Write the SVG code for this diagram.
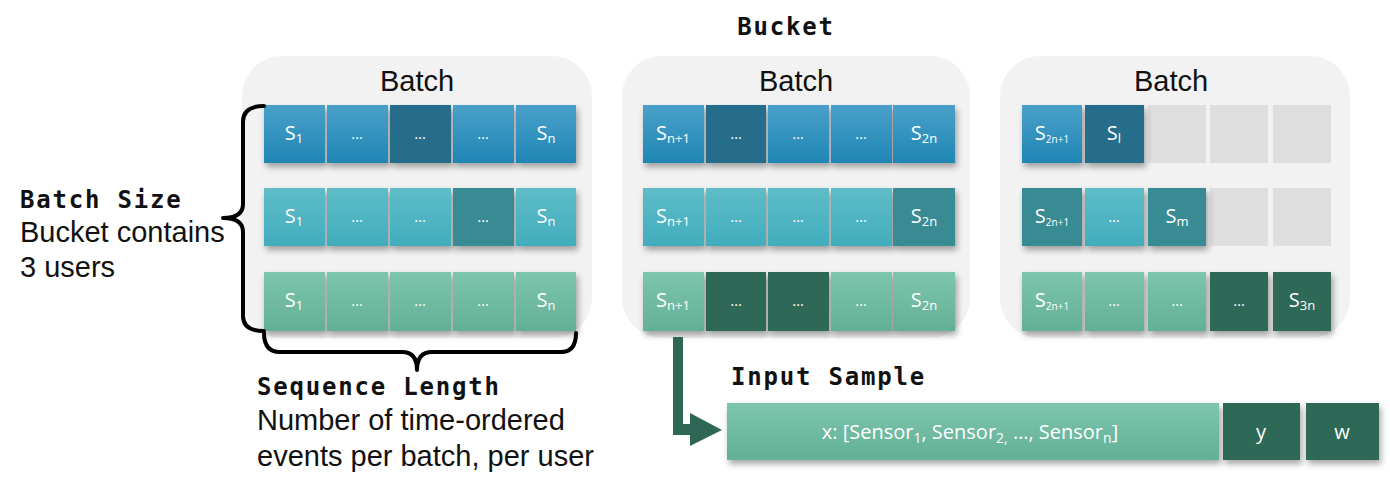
<svg xmlns="http://www.w3.org/2000/svg" width="1390" height="492" viewBox="0 0 1390 492">
<defs>
<linearGradient id="gB" x1="0" y1="0" x2="0" y2="1"><stop offset="0" stop-color="#4aa0c9"/><stop offset="1" stop-color="#1f86b5"/></linearGradient>
<linearGradient id="gC" x1="0" y1="0" x2="0" y2="1"><stop offset="0" stop-color="#5fbcc8"/><stop offset="1" stop-color="#41adbd"/></linearGradient>
<linearGradient id="gG" x1="0" y1="0" x2="0" y2="1"><stop offset="0" stop-color="#7ec5ae"/><stop offset="1" stop-color="#62b096"/></linearGradient>
<filter id="sh" x="-20%" y="-20%" width="150%" height="160%"><feDropShadow dx="2" dy="4" stdDeviation="3" flood-color="#000" flood-opacity="0.35"/></filter>
</defs>
<style>
.panel{fill:#f2f2f2}
.c{filter:url(#sh)}
.b{fill:url(#gB)}
.cy{fill:url(#gC)}
.g{fill:url(#gG)}
.db{fill:#266d8b}
.dt{fill:#378a93}
.dg{fill:#2f6756}
.e{fill:#dedede}
.t{font-family:"Open Sans","DejaVu Sans",sans-serif;fill:#fff;font-size:20px;text-anchor:middle}
.s{font-size:13px}
.xs{font-size:10px}
.d{font-size:15px}
.lbl{font-family:"Liberation Sans",Arial,sans-serif;font-size:29px;fill:#111}
.mono{font-family:"DejaVu Sans Mono","Liberation Mono",monospace;font-weight:bold;font-size:24px;letter-spacing:1.8px;fill:#111}
.brace{fill:none;stroke:#000;stroke-width:4;stroke-linejoin:round;stroke-linecap:round}
</style>

<text class="mono" x="786" y="35" text-anchor="middle">Bucket</text>

<g id="batch1">
<rect class="panel" x="242" y="56" width="350" height="282" rx="40"/>
<text class="lbl" x="417" y="91" text-anchor="middle">Batch</text>
<g class="c">
<rect class="b" x="264" y="105" width="61" height="58"/>
<rect class="b" x="327" y="105" width="61" height="58"/>
<rect class="db" x="390" y="105" width="61" height="58"/>
<rect class="b" x="453" y="105" width="61" height="58"/>
<rect class="b" x="516" y="105" width="60" height="58"/>
<rect class="cy" x="264" y="188" width="61" height="58"/>
<rect class="cy" x="327" y="188" width="61" height="58"/>
<rect class="cy" x="390" y="188" width="61" height="58"/>
<rect class="dt" x="453" y="188" width="61" height="58"/>
<rect class="cy" x="516" y="188" width="60" height="58"/>
<rect class="g" x="264" y="272" width="61" height="59"/>
<rect class="g" x="327" y="272" width="61" height="59"/>
<rect class="g" x="390" y="272" width="61" height="59"/>
<rect class="g" x="453" y="272" width="61" height="59"/>
<rect class="g" x="516" y="272" width="60" height="59"/>
</g>
<text class="t" x="294" y="140">S<tspan class="s" dy="3">1</tspan></text>
<text class="t d" x="357" y="139">…</text>
<text class="t d" x="420" y="139">…</text>
<text class="t d" x="483" y="139">…</text>
<text class="t" x="546" y="140">S<tspan class="s" dy="3">n</tspan></text>
<text class="t" x="294" y="223">S<tspan class="s" dy="3">1</tspan></text>
<text class="t d" x="357" y="222">…</text>
<text class="t d" x="420" y="222">…</text>
<text class="t d" x="483" y="222">…</text>
<text class="t" x="546" y="223">S<tspan class="s" dy="3">n</tspan></text>
<text class="t" x="294" y="307">S<tspan class="s" dy="3">1</tspan></text>
<text class="t d" x="357" y="306">…</text>
<text class="t d" x="420" y="306">…</text>
<text class="t d" x="483" y="306">…</text>
<text class="t" x="546" y="307">S<tspan class="s" dy="3">n</tspan></text>
</g>

<g id="batch2">
<rect class="panel" x="622" y="56" width="348" height="282" rx="40"/>
<text class="lbl" x="796" y="91" text-anchor="middle">Batch</text>
<g class="c">
<rect class="b" x="643" y="105" width="61" height="58"/>
<rect class="db" x="706" y="105" width="60" height="58"/>
<rect class="b" x="768" y="105" width="61" height="58"/>
<rect class="b" x="831" y="105" width="61" height="58"/>
<rect class="b" x="893" y="105" width="62" height="58"/>
<rect class="cy" x="643" y="188" width="61" height="58"/>
<rect class="cy" x="706" y="188" width="60" height="58"/>
<rect class="cy" x="768" y="188" width="61" height="58"/>
<rect class="cy" x="831" y="188" width="61" height="58"/>
<rect class="dt" x="893" y="188" width="62" height="58"/>
<rect class="g" x="643" y="272" width="61" height="59"/>
<rect class="dg" x="706" y="272" width="60" height="59"/>
<rect class="dg" x="768" y="272" width="61" height="59"/>
<rect class="g" x="831" y="272" width="61" height="59"/>
<rect class="g" x="893" y="272" width="62" height="59"/>
</g>
<text class="t" x="673" y="140">S<tspan class="s" dy="3">n+1</tspan></text>
<text class="t d" x="736" y="139">…</text>
<text class="t d" x="798" y="139">…</text>
<text class="t d" x="861" y="139">…</text>
<text class="t" x="924" y="140">S<tspan class="s" dy="3">2n</tspan></text>
<text class="t" x="673" y="223">S<tspan class="s" dy="3">n+1</tspan></text>
<text class="t d" x="736" y="222">…</text>
<text class="t d" x="798" y="222">…</text>
<text class="t d" x="861" y="222">…</text>
<text class="t" x="924" y="223">S<tspan class="s" dy="3">2n</tspan></text>
<text class="t" x="673" y="307">S<tspan class="s" dy="3">n+1</tspan></text>
<text class="t d" x="736" y="306">…</text>
<text class="t d" x="798" y="306">…</text>
<text class="t d" x="861" y="306">…</text>
<text class="t" x="924" y="307">S<tspan class="s" dy="3">2n</tspan></text>
</g>

<g id="batch3">
<rect class="panel" x="1000" y="56" width="350" height="282" rx="40"/>
<text class="lbl" x="1171" y="91" text-anchor="middle">Batch</text>
<rect class="e" x="1148" y="105" width="58" height="58"/>
<rect class="e" x="1210" y="105" width="58" height="58"/>
<rect class="e" x="1273" y="105" width="58" height="58"/>
<rect class="e" x="1210" y="188" width="58" height="58"/>
<rect class="e" x="1273" y="188" width="58" height="58"/>
<g class="c">
<rect class="b" x="1022" y="105" width="60" height="58"/>
<rect class="db" x="1085" y="105" width="59" height="58"/>
<rect class="dt" x="1022" y="188" width="60" height="58"/>
<rect class="cy" x="1085" y="188" width="59" height="58"/>
<rect class="dt" x="1148" y="188" width="58" height="58"/>
<rect class="g" x="1022" y="272" width="60" height="59"/>
<rect class="g" x="1085" y="272" width="59" height="59"/>
<rect class="g" x="1148" y="272" width="58" height="59"/>
<rect class="dg" x="1210" y="272" width="58" height="59"/>
<rect class="dg" x="1273" y="272" width="58" height="59"/>
</g>
<text class="t" x="1052" y="140">S<tspan class="xs" dy="3">2n+1</tspan></text>
<text class="t" x="1114" y="140">S<tspan class="s" dy="3">l</tspan></text>
<text class="t" x="1052" y="223">S<tspan class="xs" dy="3">2n+1</tspan></text>
<text class="t d" x="1114" y="222">…</text>
<text class="t" x="1177" y="223">S<tspan class="s" dy="3">m</tspan></text>
<text class="t" x="1052" y="307">S<tspan class="xs" dy="3">2n+1</tspan></text>
<text class="t d" x="1114" y="306">…</text>
<text class="t d" x="1177" y="306">…</text>
<text class="t d" x="1239" y="306">…</text>
<text class="t" x="1302" y="307">S<tspan class="s" dy="3">3n</tspan></text>
</g>

<g id="batch-size">
<path class="brace" d="M264,106 Q243,106 243,122 L243,204 Q243,218 223,218 Q243,218 243,232 L243,316 Q243,331 264,331"/>
<text class="mono" x="20" y="208">Batch Size</text>
<text class="lbl" x="20" y="242">Bucket contains</text>
<text class="lbl" x="20" y="277">3 users</text>
</g>

<g id="sequence-length">
<path class="brace" d="M264,333 Q264,352 280,352 L402,352 Q417,352 417,370 Q417,352 432,352 L561,352 Q576,352 576,333"/>
<text class="mono" x="257" y="395">Sequence Length</text>
<text class="lbl" x="257" y="430">Number of time-ordered</text>
<text class="lbl" x="257" y="466">events per batch, per user</text>
</g>

<g id="connectors">
<path d="M673,337 L683,337 L683,424 L690,424 L690,413 L722,430 L690,446 L690,435 L673,435 Z" fill="#2f6756"/>
</g>

<g id="input-sample">
<text class="mono" x="731" y="385">Input Sample</text>
<g class="c">
<rect class="g" x="727" y="403" width="492" height="57"/>
<rect class="dg" x="1223" y="403" width="77" height="57"/>
<rect class="dg" x="1306" y="403" width="73" height="57"/>
</g>
<text class="t" x="970" y="439" font-size="22">x: [Sensor<tspan font-size="14" dy="4">1</tspan><tspan dy="-4">, Sensor</tspan><tspan font-size="14" dy="4">2,</tspan><tspan dy="-4"> …, Sensor</tspan><tspan font-size="14" dy="4">n</tspan><tspan dy="-4">]</tspan></text>
<text class="t" x="1261" y="439" font-size="22">y</text>
<text class="t" x="1342" y="439" font-size="22">w</text>
</g>
</svg>
